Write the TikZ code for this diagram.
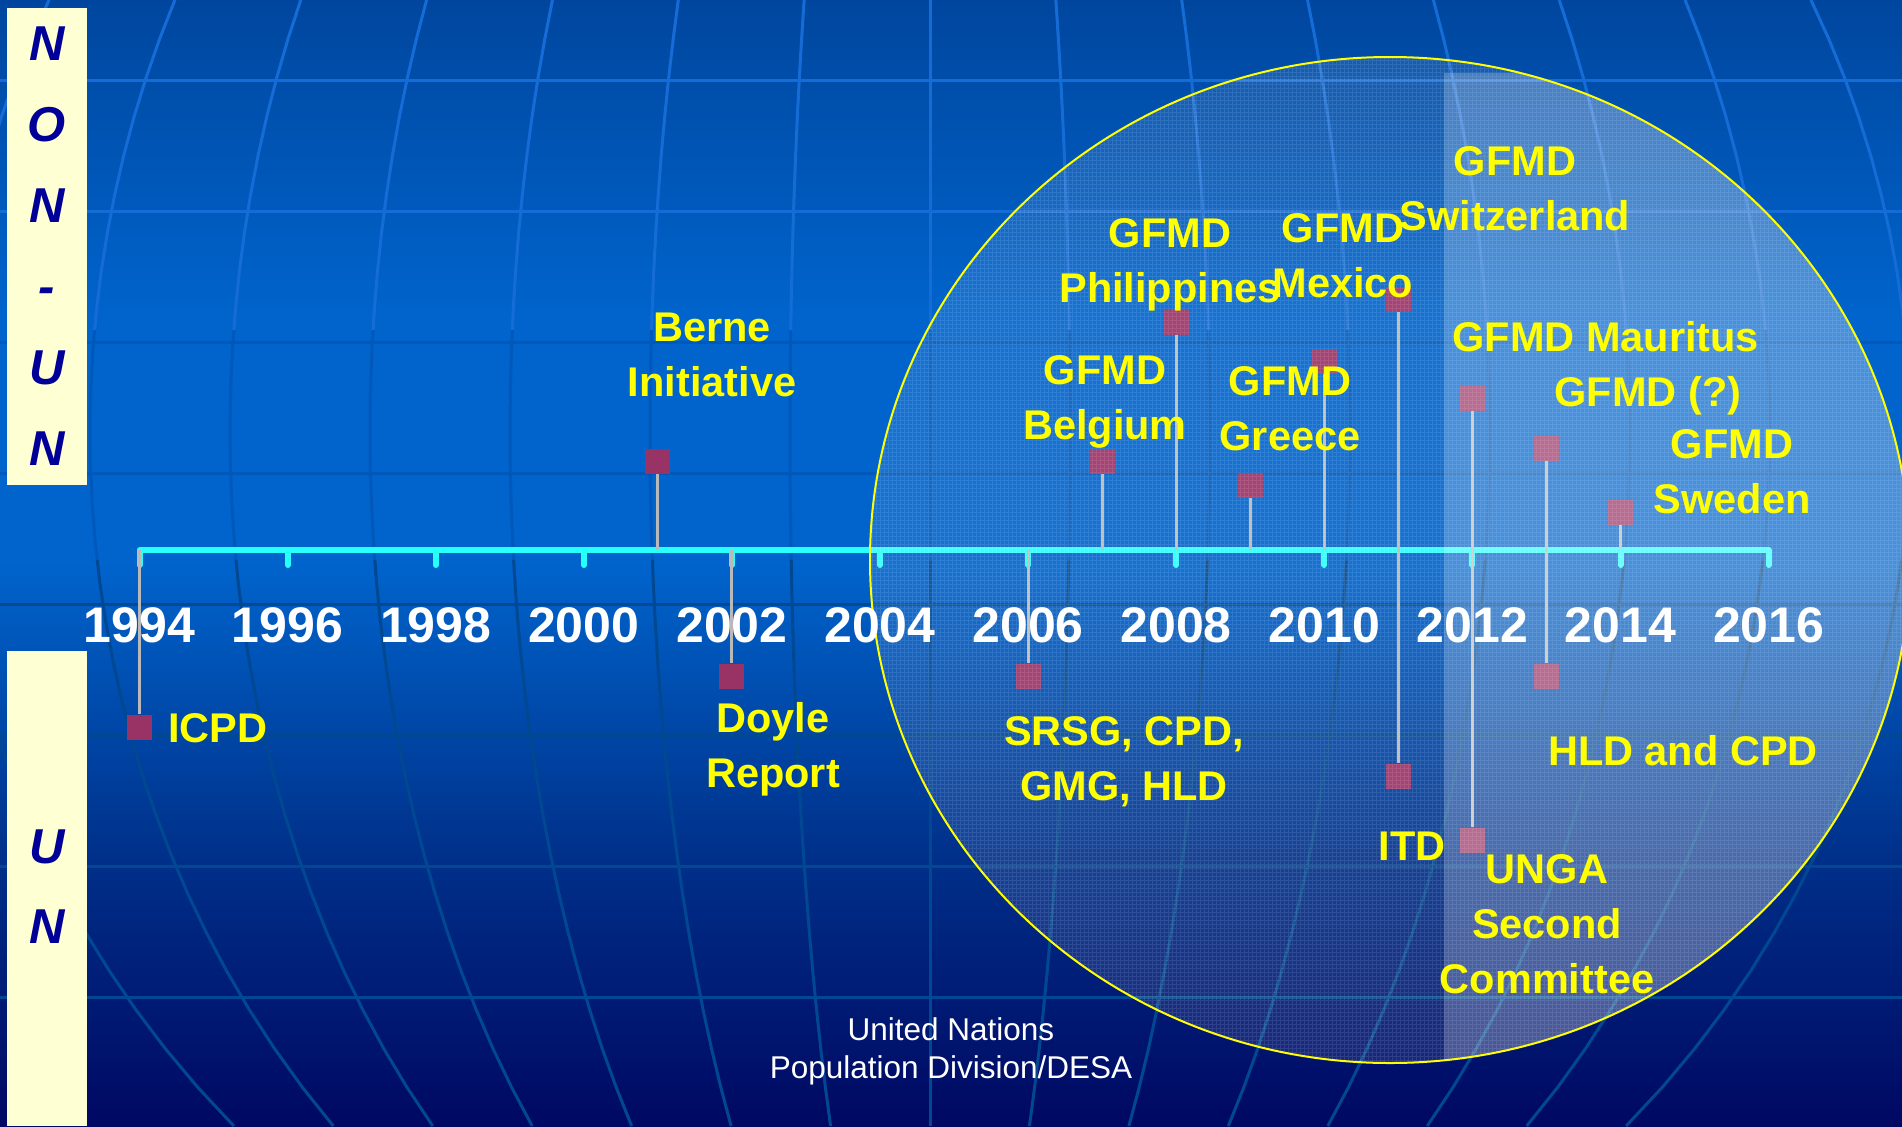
\documentclass[tikz,border=0pt]{standalone}
\usepackage{fontspec}
\setmainfont{Liberation Sans}
\usepackage{tikz}
\usetikzlibrary{positioning,calc}
\definecolor{skytop}{RGB}{0,70,158}
\definecolor{skymid}{RGB}{0,100,204}
\definecolor{skylow}{RGB}{0,48,138}
\definecolor{skybot}{RGB}{0,8,98}
\definecolor{gridtop}{RGB}{22,108,214}
\definecolor{gridmid}{RGB}{0,88,186}
\definecolor{gridlow}{RGB}{0,72,145}
\definecolor{barcream}{RGB}{255,255,212}
\definecolor{barblue}{RGB}{0,0,153}
\definecolor{lineaqua}{RGB}{40,255,255}
\definecolor{evpink}{RGB}{153,51,102}
\definecolor{stemgray}{RGB}{185,185,185}
\definecolor{evyellow}{RGB}{255,255,0}
\pgfdeclareverticalshading{skybg}{100bp}{color(0bp)=(skybot); color(25bp)=(skybot);
  color(37bp)=(skylow); color(50bp)=(skymid); color(61bp)=(skymid);
  color(75bp)=(skytop); color(100bp)=(skytop)}

\begin{document}
\begin{tikzpicture}[
  x=0.5pt, y=-0.5pt,
  evbox/.style={fill=evpink, minimum size=12.5pt, inner sep=0pt},
  stemline/.style={stemgray, line width=1.5pt},
  evlabel/.style={font=\bfseries\fontsize{20.75}{27.5}\selectfont,
    text=evyellow, align=center, inner sep=0pt, anchor=base},
  yearlabel/.style={font=\bfseries\fontsize{25}{30}\selectfont,
    text=white, inner sep=0pt, anchor=base},
  barletter/.style={font=\bfseries\itshape\fontsize{24.5}{40.5}\selectfont,
    text=barblue, align=center, inner sep=0pt, anchor=base}
]
  \useasboundingbox (0,0) rectangle (1902,1126);

  % Background
  \shade[shading=skybg] (0,0) rectangle (1902,1126);

  % Globe grid
  \foreach \gc/\ya/\yb in {gridtop/0/330, gridmid/330/560, gridlow/560/1126} {
    \begin{scope}
      \clip (0,\ya) rectangle (1902,\yb);
      \foreach \i in {-7,...,7}
        \draw[\gc, line width=1.5pt]
          plot[domain=0:1126, samples=30, variable=\t]
          ({930+140*\i*sqrt(1-((\t-432)/986)^2)}, \t);
      \foreach \y in {80,211,...,1126}
        \draw[\gc, line width=1.5pt] (0,\y) -- (1902,\y);
    \end{scope}
  }

  % Side bars
  \fill[barcream] (7,8) rectangle (87,485);
  \fill[barcream] (7,651) rectangle (87,1126);
  \node[barletter] (nonun) at (47,465) {N\\O\\N\\-\\U\\N};
  \node[barletter, font=\bfseries\itshape\fontsize{24.5}{40}\selectfont]
    (un) at (47,943) {U\\N};

  % Timeline
  \foreach \y in {1994,...,2016}
    \coordinate (t\y) at ({139.5+(\y-1994)*74.05},550);
  \draw[lineaqua, line width=3pt] (t1994) -- (t2016);

  % Year markers
  \foreach \y in {1994,1996,...,2016} {
    \draw[lineaqua, line width=3pt, line cap=round] (t\y) -- ++(0,15);
  }

  % Events and stems
  \foreach \name/\yr/\ypos in {icpd/1994/727, berne/2001/461, doyle/2002/676,
      srsg/2006/676, belgium/2007/461, philippines/2008/322, greece/2009/485,
      mexico/2010/361, switzerland/2011/299, itd/2011/776, mauritius/2012/398,
      unga/2012/840, gfmdq/2013/448, hld/2013/676, sweden/2014/512} {
    \node[evbox] (sq-\name) at ({139.5+(\yr-1994)*74.05},\ypos) {};
    \draw[stemline] (sq-\name) -- (t\yr);
  }

  % Highlight circle
  \begin{scope}
    \clip (1390,560) ellipse [x radius=520, y radius=503];
    \fill[white, opacity=0.09] (860,40) rectangle (1902,1080);
    \fill[white, opacity=0.22] (1444,73) rectangle (1902,1080);
    \draw[white, opacity=0.10, line width=0.5pt, step=2pt] (860,40) grid (1902,1080);
  \end{scope}
  \draw[evyellow, line width=1pt] (1390,560) ellipse [x radius=520, y radius=503];

  % Years
  \foreach \y in {1994,1996,...,2016}
    \node[yearlabel] (y\y) at ($(t\y)+(0,92)$) {\y};

  % Labels above the line
  \node[evlabel] (l-berne) at (712,396) {Berne\\Initiative};
  \node[evlabel] (l-belgium) at (1105,439) {GFMD\\Belgium};
  \node[evlabel] (l-philippines) at (1170,302) {GFMD\\Philippines};
  \node[evlabel] (l-greece) at (1290,450) {GFMD\\Greece};
  \node[evlabel] (l-mexico) at (1343,297) {GFMD\\Mexico};
  \node[evlabel] (l-switzerland) at (1515,230) {GFMD\\Switzerland};
  \node[evlabel, anchor=base west] (l-mauritius) at (1452,351) {GFMD Mauritus};
  \node[evlabel] (l-gfmdq) at (1648,406) {GFMD (?)};
  \node[evlabel] (l-sweden) at (1732,513) {GFMD\\Sweden};

  % Labels below the line
  \node[evlabel, anchor=base west] (l-icpd) at (168,742) {ICPD};
  \node[evlabel] (l-doyle) at (773,787) {Doyle\\Report};
  \node[evlabel] (l-srsg) at (1124,800) {SRSG, CPD,\\GMG, HLD};
  \node[evlabel] (l-itd) at (1412,860) {ITD};
  \node[evlabel] (l-unga) at (1547,993) {UNGA\\Second\\Committee};
  \node[evlabel] (l-hld) at (1683,765) {HLD and CPD};

  % Source
  \node[font=\fontsize{15.75}{18.8}\selectfont, text=white, align=center,
    inner sep=0pt, anchor=base] (source) at (951,1078)
    {United Nations\\Population Division/DESA};
\end{tikzpicture}
\end{document}
